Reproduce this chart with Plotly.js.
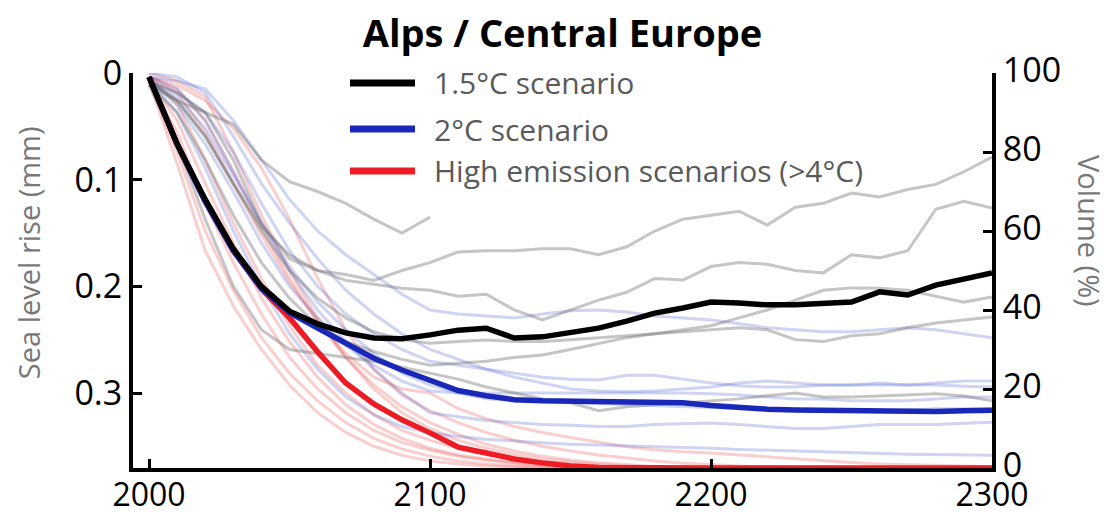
<!DOCTYPE html>
<html>
<head>
<meta charset="utf-8">
<script src="https://cdn.plot.ly/plotly-3.0.1.min.js"></script>
<style>html,body{margin:0;padding:0;background:#fff;}#chart{width:1111px;height:519px;}</style>
</head>
<body>
<div id="chart"></div>
<script>
// Years (10-year steps)
const years = [2000,2010,2020,2030,2040,2050,2060,2070,2080,2090,2100,2110,2120,2130,2140,2150,2160,2170,2180,2190,2200,2210,2220,2230,2240,2250,2260,2270,2280,2290,2300];

// Main scenario means (glacier volume, % of 2000)
const mean15 = [99,82,68,55.5,46,39.7,36.5,34.2,32.9,32.7,33.7,34.9,35.4,32.9,33.2,34.2,35.4,37.2,39.2,40.5,42,41.8,41.3,41.3,41.5,42,44.6,43.8,46.3,47.8,49.4];
const mean20 = [99,82,67.5,55,45.5,39.3,35.4,31.6,27.8,24.8,22.3,19.6,18.3,17.3,17.0,16.9,16.8,16.7,16.6,16.5,15.8,15.2,14.9,14.7,14.6,14.5,14.3,14.2,14.3,14.5,14.6];
const meanHigh = [99,82,67.5,55,45.3,38,29.4,21.5,16.2,12.2,8.9,5.3,3.8,2.3,1.3,0.5,0.1,0,0,0,0,0,0,0,0,0,0,0,0,0,0];

// Individual model runs, 1.5°C
const g1 = [97,93,90,87,78,72.5,70,67,63,59.5,63.5,null,null,null,null,null,null,null,null,null,null,null,null,null,null,null,null,null,null,null,null];
const g2 = [98,95,90,78,62,53,50,49,47.5,50,52,54.7,55,55,55.5,55.5,54,56,60,63,64,65,61.5,66,67,69.6,68.6,70.5,71.8,75,78.7];
const g3 = [98,93,84,72,61,54,50,47.5,46.5,45.5,45,43.5,44,40,37.5,40,42.5,44.5,48,47.6,51,52,51.6,50,49.4,54,53.2,55,65.5,67.5,65.8];
const g4 = [97,90,78,64,52,43,36,32,29.5,27.5,26,26.5,27,28,28.6,30,31.5,33,34,35,36,38,40,42.5,45,45.6,45.5,45,43.5,42,43.3];
const g5 = [98,93,84,72,60,50,43,38,34.5,32.5,31.6,32,32.4,32,32,32.5,33,33.5,34,34.5,35,35.5,35,32.5,32,33.5,34,35.5,36.7,37.5,38.2];
const g6 = [97,82,63,46,35,30,29,28,27,25.5,24,22.5,20.5,19,17.5,16.5,14.5,15.5,16,16.5,17,17.5,18.3,19,18,18,18.2,18.5,18.8,18.2,17];

// Individual model runs, 2°C
const b1 = [99,98,96,88,78,68,60,54,49,44,40,39,38.5,38,39,39.8,40,39.5,38.5,38,37.5,36.5,35.5,35,34.5,34.5,35,35.5,35,34,33];
const b2 = [98,95,90,80,67,55,46,39,34,30,27,26,25,24,23,22.5,22.3,23.5,23.5,22.5,21.5,20.8,20.5,20.5,21,21,21,21,21,20.7,20.5];
const b3 = [98,92,82,70,57,46,38,31,26,22,19.5,19,19,19,19,19,19,19,19,19,18.8,18.5,18,17.5,17.5,17,17,17,17.5,18,18];
const b4 = [99,96,88,75,62,50,40,32,25,19,14,13,12,11.5,11,10.8,10.5,10.5,11,11.2,11.4,11,10.5,10,10,10.5,11,11,11,11.3,11.6];
const b5 = [98,90,76,60,46,34,25,18,13.5,10.5,8.9,8,7.3,6.8,6.4,6,5.8,5.6,5.4,5.3,5,4.7,4.5,4.2,4,3.8,3.6,3.5,3.4,3.3,3.2];
const b6 = [98,94,86,74,62,51,42,35,29,24,21,19,17.5,17,16.8,16.5,16.3,16,15.8,15.5,15.3,15,15,14.8,14.5,14.5,14.5,14.7,15,15,15];
const b7 = [100,99,95,84,72,62,53,45,39,34,30,27.5,25,23,21.5,20,19.5,19.3,19.5,20,20.5,21.5,22,21.5,21,21,21.5,21,21.5,22,22];

// Individual model runs, high emission (>4°C)
const p1 = [98,77,55,41,30,21,14,9,5.5,3.2,1.8,1,0.5,0.2,0,0,0,0,0,0,0,0,0,0,0,0,0,0,0,0,0];
const p2 = [98,80,60,45,33,24,17,11.5,7.5,4.8,3,1.8,1,0.5,0.2,0,0,0,0,0,0,0,0,0,0,0,0,0,0,0,0];
const p3 = [98,85,67,52,39,28,20,14,9.5,6.5,4.5,3,2,1.2,0.6,0.3,0,0,0,0,0,0,0,0,0,0,0,0,0,0,0];
const p4 = [99,92,78,62,48,36,26,19,13.5,9.5,7,5,3.5,2.5,1.6,1,0.5,0.2,0,0,0,0,0,0,0,0,0,0,0,0,0];
const p5 = [99,96,88,75,61,48,37,28,21,15.5,11.5,8.5,6,4.3,3,2,1.3,0.8,0.4,0.2,0,0,0,0,0,0,0,0,0,0,0];
const p6 = [99,97,93,86,76,63,48,35,25,18.5,14.5,11.5,9,7,5.5,4.3,3.3,2.5,1.8,1.2,0.8,0.5,0.3,0.1,0,0,0,0,0,0,0];
const p7 = [99,95,85,72,59,47,37,29,23,20,19,15,12.5,10.5,9,7.7,6.5,5.4,4.6,4.1,3.8,3.3,2.8,2.3,1.8,1.4,1,0.8,0.6,0.5,0.4];
const p8 = [98,88,72,57,43,32,23,16,11,7.5,5,3.3,2.2,1.4,0.8,0.4,0.2,0,0,0,0,0,0,0,0,0,0,0,0,0,0];
const p9 = [100,98,94,80,64,50,38,28,20,14,10,7,5,3.5,2.3,1.5,0.9,0.5,0.2,0,0,0,0,0,0,0,0,0,0,0,0];

// Axis ticks
const xTicks = [2000,2100,2200,2300];
const volTicks = [0,20,40,60,80,100];
const slrTicks = [0,0.1,0.2,0.3];
const slrTickText = ['0','0.1','0.2','0.3'];

// Legend labels
const legendLabels = ['1.5°C scenario','2°C scenario','High emission scenarios (>4°C)'];

const FONT = 'Open Sans, Noto Sans, sans-serif';
const greyRuns = [g1,g2,g3,g4,g5,g6];
const blueRuns = [b1,b2,b3,b4,b5,b6,b7];
const pinkRuns = [p1,p2,p3,p4,p5,p6,p7,p8,p9];

const traces = [];
function faint(arr, color){
  traces.push({type:'scatter', mode:'lines', x:years, y:arr, line:{color:color, width:3}, showlegend:false, hoverinfo:'skip', connectgaps:false});
}
pinkRuns.forEach(a=>faint(a,'rgba(235,80,80,0.28)'));
blueRuns.forEach(a=>faint(a,'rgba(80,100,210,0.28)'));
greyRuns.forEach(a=>faint(a,'rgba(110,110,110,0.4)'));

const mainColors = ['#000000','rgb(25,40,185)','rgb(237,28,36)'];
traces.push({type:'scatter', mode:'lines', x:years, y:meanHigh, name:legendLabels[2], line:{color:mainColors[2], width:5.5}, showlegend:false});
traces.push({type:'scatter', mode:'lines', x:years, y:mean20, name:legendLabels[1], line:{color:mainColors[1], width:5.5}, showlegend:false});
traces.push({type:'scatter', mode:'lines', x:years, y:mean15, name:legendLabels[0], line:{color:mainColors[0], width:5.5}, showlegend:false});
// empty trace so the sea-level axis is drawn
traces.push({type:'scatter', mode:'lines', x:[], y:[], yaxis:'y2', showlegend:false, hoverinfo:'skip'});

// Manual legend (plot-paper coordinates)
const legX0 = 0.2526, legX1 = 0.3283, legTextX = 0.3481;
const legY = [0.9747, 0.8582, 0.7519];
const shapes = legendLabels.map((t,i)=>({type:'line', xref:'paper', yref:'paper', x0:legX0, x1:legX1, y0:legY[i], y1:legY[i], line:{color:mainColors[i], width:7}, layer:'above'}));
const annotations = legendLabels.map((t,i)=>({xref:'paper', yref:'paper', x:legTextX, y:legY[i], xanchor:'left', yanchor:'middle', text:t, showarrow:false, font:{family:FONT, size:30, color:'rgb(90,90,90)'}}));
annotations.push({xref:'paper', yref:'paper', x:-0.1222, y:0.544, xanchor:'center', yanchor:'middle', textangle:-90, text:'Sea level rise (mm)', showarrow:false, font:{family:FONT, size:29, color:'rgb(120,120,120)'}});
annotations.push({xref:'paper', yref:'paper', x:1.114, y:0.6, xanchor:'center', yanchor:'middle', textangle:90, text:'Volume (%)', showarrow:false, font:{family:FONT, size:29, color:'rgb(120,120,120)'}});

const axisCommon = {showgrid:false, zeroline:false, showline:true, linecolor:'#000', linewidth:4, ticks:'inside', ticklen:9, tickwidth:3, tickcolor:'#000'};

const layout = {
  width:1111, height:519,
  margin:{l:133, r:119, t:73, b:51, pad:0},
  paper_bgcolor:'#fff', plot_bgcolor:'#fff',
  font:{family:FONT, color:'#000'},
  title:{text:'<b>Alps / Central Europe</b>', x:0.5, xref:'paper', xanchor:'center', y:0.936, yref:'container', yanchor:'middle', font:{family:FONT, size:38, color:'#000'}},
  xaxis:Object.assign({}, axisCommon, {range:[1994.3,2300], tickvals:xTicks, ticktext:xTicks.map(String), ticklabelstandoff:-4, tickfont:{family:FONT, size:32, color:'#000'}}),
  yaxis:Object.assign({}, axisCommon, {side:'right', range:[0,100], tickvals:volTicks, ticklabelshift:-3, tickfont:{family:FONT, size:34, color:'#000'}}),
  yaxis2:Object.assign({}, axisCommon, {side:'left', overlaying:'y', range:[0.37,0], tickvals:slrTicks, ticktext:slrTickText, tickfont:{family:FONT, size:34, color:'#000'}}),
  shapes:shapes,
  annotations:annotations,
  showlegend:false
};

Plotly.newPlot('chart', traces, layout, {staticPlot:true, displayModeBar:false});
</script>
</body>
</html>
